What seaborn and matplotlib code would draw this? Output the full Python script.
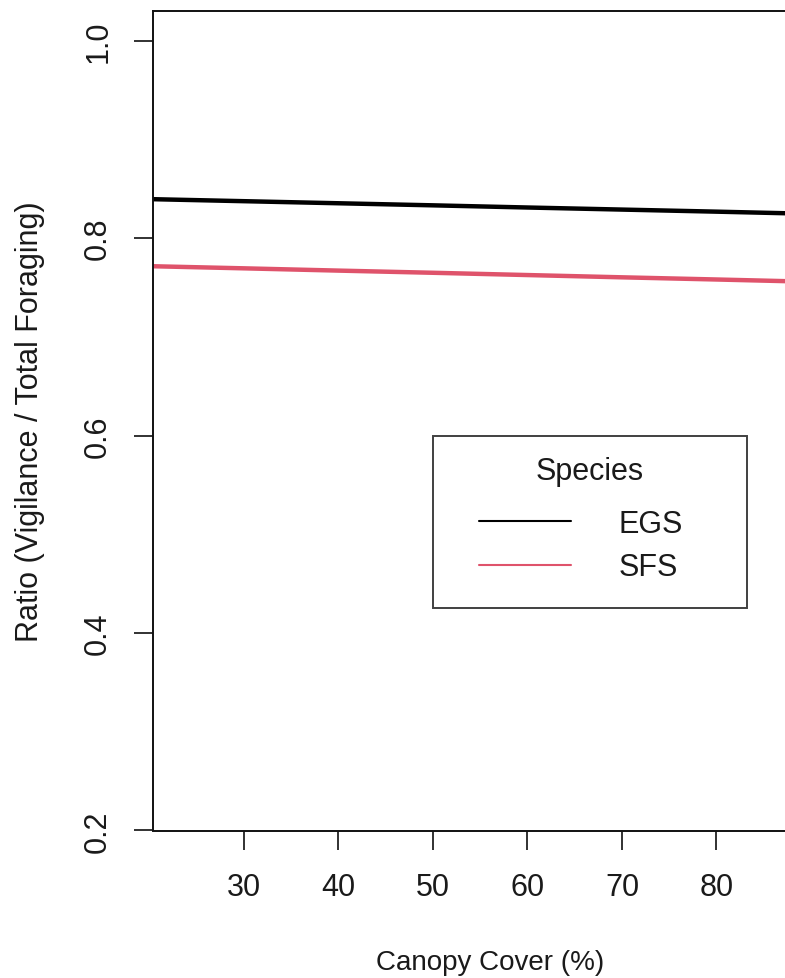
import numpy as np
import pandas as pd
import matplotlib
matplotlib.use("Agg")
import matplotlib.pyplot as plt
import seaborn as sns
from matplotlib.lines import Line2D
from matplotlib.legend_handler import HandlerLine2D

# Data
canopy = [20, 30, 40, 50, 60, 70, 80, 90]
egs = [0.8394, 0.8373, 0.8352, 0.8331, 0.8309, 0.8288, 0.8267, 0.8245]
sfs = [0.7715, 0.7693, 0.7670, 0.7648, 0.7625, 0.7602, 0.7580, 0.7557]
species = ["EGS", "SFS"]
colors = {"EGS": "black", "SFS": "#DF536B"}
xticks = [30, 40, 50, 60, 70, 80]
yticks = [0.2, 0.4, 0.6, 0.8, 1.0]

df = pd.DataFrame({
    "Canopy": canopy * 2,
    "Ratio": egs + sfs,
    "Species": ["EGS"] * len(canopy) + ["SFS"] * len(canopy),
})

sns.set_theme(style="white")
plt.rcParams["font.family"] = ["Liberation Sans", "DejaVu Sans"]

W, H = 785, 979
fig = plt.figure(figsize=(W / 100, H / 100), dpi=100)
left_px, right_px, top_px, bot_px = 153, 827, 12, 831.5
ax = fig.add_axes([left_px / W, (H - bot_px) / H,
                   (right_px - left_px) / W, (bot_px - top_px) / H])

sns.lineplot(data=df, x="Canopy", y="Ratio", hue="Species", palette=colors,
             linewidth=3.2, legend=False, ax=ax)

ax.set_xlim(20.37, 91.7)
ax.set_ylim(0.2, 1.0299)
ax.set_xticks(xticks)
ax.set_xticklabels([str(t) for t in xticks])
ax.set_yticks(yticks)
ax.set_yticklabels([f"{t:.1f}" for t in yticks], rotation=90, va="center")

fs = 22
ax.tick_params(axis="both", direction="out", length=13.7, width=1.3,
               color="#222222", labelsize=fs, labelcolor="#1a1a1a",
               bottom=True, left=True)
ax.tick_params(axis="x", pad=16)
ax.tick_params(axis="y", pad=15)

for s in ["top", "left", "bottom"]:
    ax.spines[s].set_visible(True)
    ax.spines[s].set_color("#111111")
    ax.spines[s].set_linewidth(1.4)
ax.spines["right"].set_visible(False)

ax.set_xlabel("Canopy Cover (%)", fontsize=20, color="#1a1a1a", labelpad=34)
ax.set_ylabel("Ratio (Vigilance / Total Foraging)", fontsize=fs,
              color="#1a1a1a", labelpad=27.5)

handles = [Line2D([0], [0], color=colors[s], lw=1.5) for s in species]
ax_w = right_px - left_px
ax_h = bot_px - top_px
leg = ax.legend(handles, species, title="Species",
                bbox_to_anchor=((433 - left_px) / ax_w, 0,
                                314 / ax_w, (bot_px - 437) / ax_h),
                loc="upper left", mode="expand", borderaxespad=0,
                fontsize=fs, title_fontsize=fs, handlelength=3.85,
                handletextpad=1.54, borderpad=0.67, labelspacing=0.45,
                handler_map={Line2D: HandlerLine2D(xpad=0.83)},
                frameon=True, fancybox=False, edgecolor="#111111")
leg._legend_handle_box.pad = 4.0
leg._legend_box.sep = 12.0
leg.get_frame().set_linewidth(1.4)
leg.get_title().set_color("#1a1a1a")
for t in leg.get_texts():
    t.set_color("#1a1a1a")

fig.savefig("out.png", dpi=100)
